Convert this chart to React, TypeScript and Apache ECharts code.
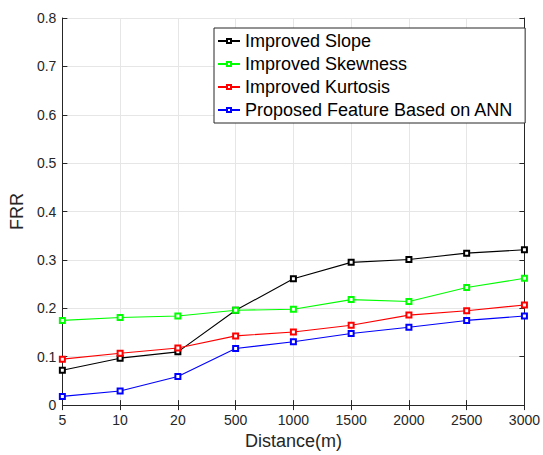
import React, { useEffect, useRef } from "react";
import * as echarts from "echarts";

const categories = ["5", "10", "20", "500", "1000", "1500", "2000", "2500", "3000"];
const improvedSlope = [0.072, 0.097, 0.11, 0.196, 0.261, 0.295, 0.301, 0.314, 0.321];
const improvedSkewness = [0.175, 0.181, 0.184, 0.196, 0.198, 0.218, 0.214, 0.243, 0.262];
const improvedKurtosis = [0.095, 0.107, 0.118, 0.143, 0.151, 0.165, 0.186, 0.195, 0.207];
const proposedANN = [0.018, 0.029, 0.059, 0.117, 0.131, 0.148, 0.161, 0.175, 0.184];
const seriesNames = [
  "Improved Slope",
  "Improved Skewness",
  "Improved Kurtosis",
  "Proposed Feature Based on ANN",
];
const seriesColors = ["#000000", "#00ff00", "#ff0000", "#0000ff"];

const FONT = "Arial, 'Liberation Sans', sans-serif";
const AXIS_COLOR = "#262626";

export default function App() {
  const ref = useRef<HTMLDivElement>(null);
  useEffect(() => {
    document.body.style.margin = "0";
    document.body.style.overflow = "hidden";
    document.documentElement.style.overflow = "hidden";
    if (!ref.current) return;
    const chart = echarts.init(ref.current, undefined, { renderer: "svg" });
    const data = [improvedSlope, improvedSkewness, improvedKurtosis, proposedANN];
    const axisLineStyle = { lineStyle: { color: AXIS_COLOR, width: 1 } };
    chart.setOption({
      animation: false,
      backgroundColor: "#ffffff",
      textStyle: { fontFamily: FONT },
      grid: { left: 55, right: 16, top: 18, bottom: 45, containLabel: false },
      legend: {
        orient: "vertical",
        left: 214,
        top: 28,
        backgroundColor: "#ffffff",
        borderColor: AXIS_COLOR,
        borderWidth: 1,
        borderRadius: 0,
        padding: [4, 12, 4, 3],
        itemGap: 5,
        itemWidth: 22,
        itemHeight: 5,
        itemTextGap: 2,
        itemStyle: { borderWidth: 1 },
        textStyle: { fontSize: 18, color: "#000", fontFamily: FONT },
        data: seriesNames,
      },
      xAxis: [
        {
          type: "category",
          data: categories,
          boundaryGap: false,
          position: "bottom",
          name: "Distance(m)",
          nameLocation: "middle",
          nameGap: 26,
          nameTextStyle: { fontSize: 18, color: AXIS_COLOR, fontFamily: FONT },
          axisLine: axisLineStyle,
          axisTick: { inside: true, length: 5, lineStyle: { color: AXIS_COLOR } },
          axisLabel: { fontSize: 14, color: AXIS_COLOR, margin: 8, fontFamily: FONT },
          splitLine: { show: true, lineStyle: { color: "#e6e6e6", width: 1 } },
        },
        {
          type: "category",
          data: categories,
          boundaryGap: false,
          position: "top",
          axisLine: axisLineStyle,
          axisTick: { inside: true, length: 5, lineStyle: { color: AXIS_COLOR } },
          axisLabel: { show: false },
          splitLine: { show: false },
        },
      ],
      yAxis: [
        {
          type: "value",
          min: 0,
          max: 0.8,
          interval: 0.1,
          position: "left",
          name: "FRR",
          nameLocation: "middle",
          nameGap: 29,
          nameTextStyle: { fontSize: 18, color: AXIS_COLOR, fontFamily: FONT },
          axisLine: { show: true, ...axisLineStyle },
          axisTick: { show: true, inside: true, length: 5, lineStyle: { color: AXIS_COLOR } },
          axisLabel: {
            fontSize: 14,
            color: AXIS_COLOR,
            margin: 6,
            fontFamily: FONT,
            formatter: (v: number) => (v === 0 ? "0" : v.toFixed(1)),
          },
          splitLine: { show: true, lineStyle: { color: "#e6e6e6", width: 1 } },
        },
        {
          type: "value",
          min: 0,
          max: 0.8,
          interval: 0.1,
          position: "right",
          axisLine: { show: true, ...axisLineStyle },
          axisTick: { show: true, inside: true, length: 5, lineStyle: { color: AXIS_COLOR } },
          axisLabel: { show: false },
          splitLine: { show: false },
        },
      ],
      series: seriesNames.map((name, i) => ({
        name,
        type: "line",
        xAxisIndex: 0,
        yAxisIndex: 0,
        data: data[i],
        symbol: "emptyRect",
        symbolSize: 5,
        showAllSymbol: true,
        color: seriesColors[i],
        lineStyle: { color: seriesColors[i], width: 1.1 },
        itemStyle: { color: seriesColors[i], borderColor: seriesColors[i], borderWidth: 1 },
      })),
    });
    return () => chart.dispose();
  }, []);
  return (
    <div
      ref={ref}
      style={{ position: "absolute", left: 0, top: 0, width: 543, height: 455 }}
    />
  );
}
